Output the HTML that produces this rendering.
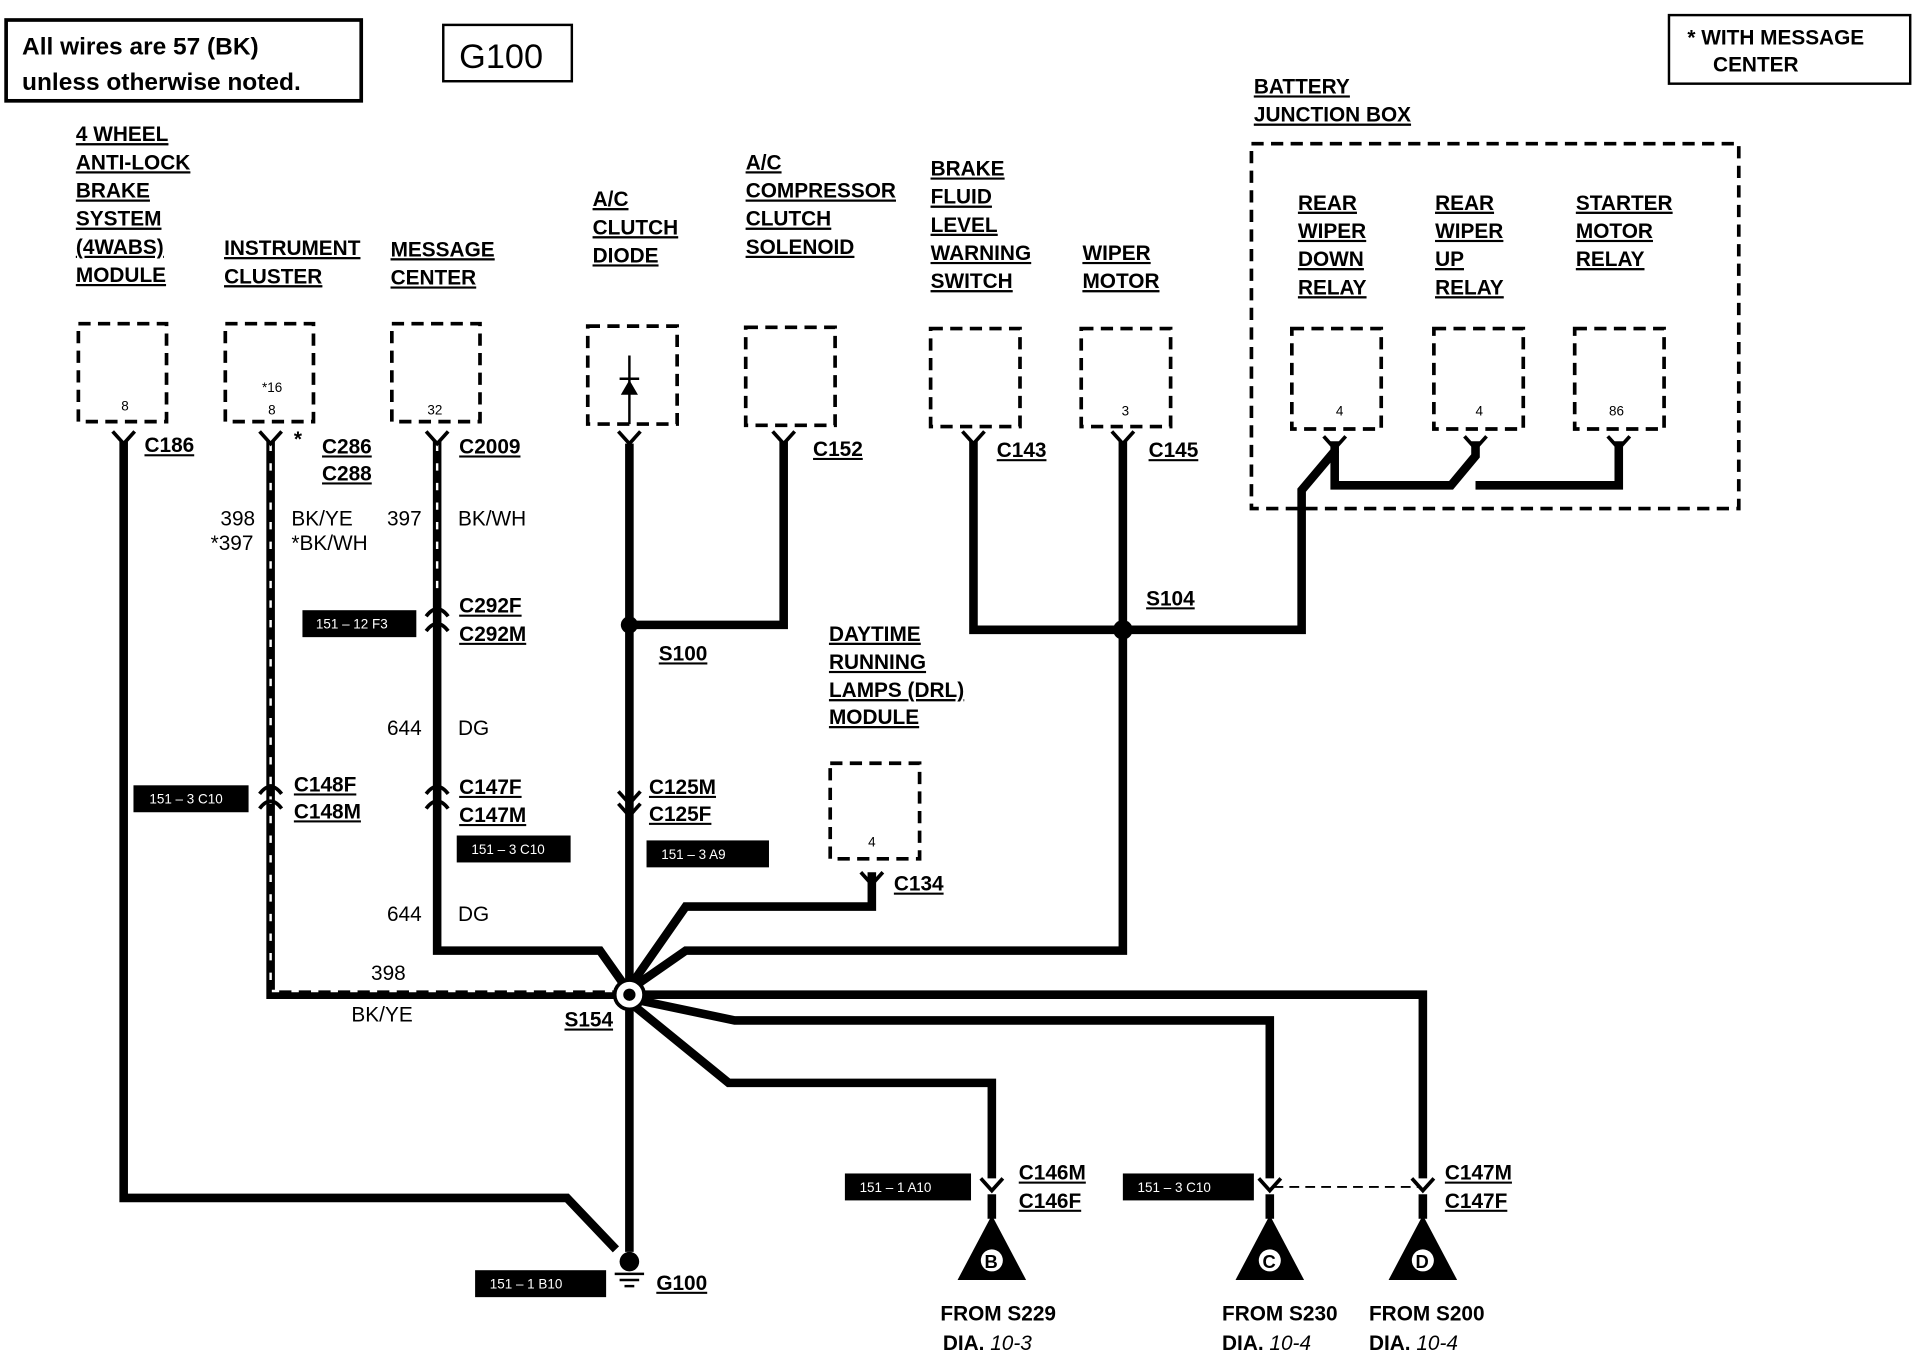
<!DOCTYPE html>
<html><head><meta charset="utf-8"><style>
html,body{margin:0;padding:0;background:#fff;}
svg{display:block;}
text{font-family:"Liberation Sans",sans-serif;font-weight:bold;font-size:17px;fill:#000;}
.u{text-decoration:underline;}
.s{font-size:11px;font-weight:normal;}
.bx{font-size:11px;fill:#fff;font-weight:normal;}
.w{fill:none;stroke:#000;stroke-width:7;stroke-linejoin:miter;}
.d{fill:none;stroke:#000;stroke-width:3;stroke-dasharray:10,6;}
.h{fill:none;stroke:#fff;stroke-width:2;stroke-dasharray:6,10;}
</style></head><body>
<svg width="1920" height="1360" viewBox="0 0 1568 1110" xmlns="http://www.w3.org/2000/svg">
<!-- header boxes -->
<rect x="5" y="16" width="290" height="66" fill="none" stroke="#000" stroke-width="3"/>
<text x="18" y="44" style="font-size:20px">All wires are 57 (BK)</text>
<text x="18" y="73" style="font-size:20px">unless otherwise noted.</text>
<rect x="362" y="20" width="105" height="46" fill="none" stroke="#000" stroke-width="2"/>
<text x="375" y="55" style="font-size:28px;font-weight:normal">G100</text>
<rect x="1363" y="12" width="197" height="56" fill="none" stroke="#000" stroke-width="2"/>
<text x="1378" y="36">*  WITH MESSAGE</text>
<text x="1399" y="58">CENTER</text>

<!-- component labels -->
<g class="u">
<text x="62" y="115" class="u">4 WHEEL</text><text x="62" y="138" class="u">ANTI-LOCK</text><text x="62" y="161" class="u">BRAKE</text><text x="62" y="184" class="u">SYSTEM</text><text x="62" y="207" class="u">(4WABS)</text><text x="62" y="230" class="u">MODULE</text>
<text x="183" y="208" class="u">INSTRUMENT</text><text x="183" y="231" class="u">CLUSTER</text>
<text x="319" y="209" class="u">MESSAGE</text><text x="319" y="232" class="u">CENTER</text>
<text x="484" y="168" class="u">A/C</text><text x="484" y="191" class="u">CLUTCH</text><text x="484" y="214" class="u">DIODE</text>
<text x="609" y="138" class="u">A/C</text><text x="609" y="161" class="u">COMPRESSOR</text><text x="609" y="184" class="u">CLUTCH</text><text x="609" y="207" class="u">SOLENOID</text>
<text x="760" y="143" class="u">BRAKE</text><text x="760" y="166" class="u">FLUID</text><text x="760" y="189" class="u">LEVEL</text><text x="760" y="212" class="u">WARNING</text><text x="760" y="235" class="u">SWITCH</text>
<text x="884" y="212" class="u">WIPER</text><text x="884" y="235" class="u">MOTOR</text>
<text x="1024" y="76" class="u">BATTERY</text><text x="1024" y="99" class="u">JUNCTION BOX</text>
<text x="1060" y="171" class="u">REAR</text><text x="1060" y="194" class="u">WIPER</text><text x="1060" y="217" class="u">DOWN</text><text x="1060" y="240" class="u">RELAY</text>
<text x="1172" y="171" class="u">REAR</text><text x="1172" y="194" class="u">WIPER</text><text x="1172" y="217" class="u">UP</text><text x="1172" y="240" class="u">RELAY</text>
<text x="1287" y="171" class="u">STARTER</text><text x="1287" y="194" class="u">MOTOR</text><text x="1287" y="217" class="u">RELAY</text>
<text x="677" y="523" class="u">DAYTIME</text><text x="677" y="546" class="u">RUNNING</text><text x="677" y="569" class="u">LAMPS (DRL)</text><text x="677" y="591" class="u">MODULE</text>
</g>

<!-- dashed boxes -->
<rect class="d" x="64" y="264" width="72" height="80"/><text class="s" x="99" y="335">8</text>
<rect class="d" x="184" y="264" width="72" height="80"/><text class="s" x="214" y="320">*16</text><text class="s" x="219" y="338">8</text>
<rect class="d" x="320" y="264" width="72" height="80"/><text class="s" x="349" y="338">32</text>
<rect class="d" x="480" y="266" width="73" height="80"/>
<rect class="d" x="609" y="267" width="73" height="80"/>
<rect class="d" x="760" y="268" width="73" height="80"/>
<rect class="d" x="883" y="268" width="73" height="80"/><text class="s" x="916" y="339">3</text>
<rect class="d" x="1022" y="117" width="398" height="298"/>
<rect class="d" x="1055" y="268" width="73" height="82"/><text class="s" x="1091" y="339">4</text>
<rect class="d" x="1171" y="268" width="73" height="82"/><text class="s" x="1205" y="339">4</text>
<rect class="d" x="1286" y="268" width="73" height="82"/><text class="s" x="1314" y="339">86</text>
<rect class="d" x="678" y="623" width="73" height="78"/><text class="s" x="709" y="691">4</text>
<!-- diode -->
<line x1="514" y1="290" x2="514" y2="346" stroke="#000" stroke-width="2"/>
<polygon points="507,322 521,322 514,310" fill="#000"/>
<line x1="506" y1="309" x2="522" y2="309" stroke="#000" stroke-width="2"/>

<!-- wires -->
<path class="w" d="M101,360 V978 H463 L503,1020"/>
<path class="w" d="M221,360 V812 H514"/>
<path class="h" d="M221,362 V809 H500"/>
<path class="w" d="M357,360 V776 H490 L514,810"/>
<path class="h" d="M357,362 V480"/>
<path class="w" d="M514,362 V1022"/>
<path class="w" d="M514,510 H640 V360"/>
<path class="w" d="M795,360 V514 H917"/>
<path class="w" d="M917,360 V776 H560 L514,808"/>
<path class="w" d="M917,514 H1063 V400 L1090,368 V360"/>
<path class="w" d="M1090,368 V396 H1185 L1205,372 V360"/>
<path class="w" d="M1205,396 H1322 V360"/>
<path class="w" d="M712,712 V740 H560 L514,806"/>
<path class="w" d="M514,812 H1162 V962"/>
<path class="w" d="M514,815 L600,833 H1037 V962"/>
<path class="w" d="M514,818 L595,884 H810 V962"/>
<path class="w" d="M810,975 V995"/><path class="w" d="M1037,975 V995"/><path class="w" d="M1162,975 V995"/>
<line x1="1040" y1="969" x2="1160" y2="969" stroke="#000" stroke-width="1.5" stroke-dasharray="8,5"/>

<!-- connector forks -->
<g fill="none" stroke="#000" stroke-width="3">
<path d="M92,352 L101,362 L110,352"/><path d="M212,352 L221,362 L230,352"/><path d="M348,352 L357,362 L366,352"/>
<path d="M505,352 L514,362 L523,352"/><path d="M631,352 L640,362 L649,352"/><path d="M786,352 L795,362 L804,352"/>
<path d="M908,352 L917,362 L926,352"/><path d="M1081,356 L1090,366 L1099,356"/><path d="M1196,356 L1205,366 L1214,356"/>
<path d="M1313,356 L1322,366 L1331,356"/><path d="M703,712 L712,722 L721,712"/>
<!-- inline connectors -->
<path d="M212,648 Q221,636 230,648"/><path d="M212,660 Q221,648 230,660"/>
<path d="M348,503 Q357,491 366,503"/><path d="M348,515 Q357,503 366,515"/>
<path d="M348,648 Q357,636 366,648"/><path d="M348,660 Q357,648 366,660"/>
<path d="M505,646 L514,656 L523,646"/><path d="M505,656 L514,666 L523,656"/>
<path d="M801,962 L810,972 L819,962"/><path d="M1028,962 L1037,972 L1046,962"/><path d="M1153,962 L1162,972 L1171,962"/>
</g>

<!-- splices -->
<circle cx="514" cy="510" r="7" fill="#000"/>
<circle cx="917" cy="514" r="8" fill="#000"/>
<circle cx="514" cy="812" r="12" fill="#fff" stroke="#000" stroke-width="3"/>
<circle cx="514" cy="812" r="5" fill="#000"/>
<!-- ground -->
<circle cx="514" cy="1030" r="8" fill="#000"/>
<line x1="502" y1="1040" x2="526" y2="1040" stroke="#000" stroke-width="2"/>
<line x1="506" y1="1045" x2="522" y2="1045" stroke="#000" stroke-width="2"/>
<line x1="510" y1="1050" x2="518" y2="1050" stroke="#000" stroke-width="2"/>

<!-- triangles -->
<polygon points="810,992 782,1045 838,1045" fill="#000"/><circle cx="810" cy="1029" r="9" fill="#fff"/><text x="804" y="1035" style="font-size:15px">B</text>
<polygon points="1037,992 1009,1045 1065,1045" fill="#000"/><circle cx="1037" cy="1029" r="9" fill="#fff"/><text x="1031" y="1035" style="font-size:15px">C</text>
<polygon points="1162,992 1134,1045 1190,1045" fill="#000"/><circle cx="1162" cy="1029" r="9" fill="#fff"/><text x="1156" y="1035" style="font-size:15px">D</text>

<!-- connector labels -->
<text x="118" y="369" class="u">C186</text>
<text x="240" y="364">*</text><text x="263" y="370" class="u">C286</text><text x="263" y="392" class="u">C288</text>
<text x="180" y="429" style="font-weight:normal">398</text><text x="172" y="449" style="font-weight:normal">*397</text>
<text x="238" y="429" style="font-weight:normal">BK/YE</text><text x="238" y="449" style="font-weight:normal">*BK/WH</text>
<text x="240" y="646" class="u">C148F</text><text x="240" y="668" class="u">C148M</text>
<text x="303" y="800" style="font-weight:normal">398</text><text x="287" y="834" style="font-weight:normal">BK/YE</text>
<text x="375" y="370" class="u">C2009</text>
<text x="316" y="429" style="font-weight:normal">397</text><text x="374" y="429" style="font-weight:normal">BK/WH</text>
<text x="375" y="500" class="u">C292F</text><text x="375" y="523" class="u">C292M</text>
<text x="316" y="600" style="font-weight:normal">644</text><text x="374" y="600" style="font-weight:normal">DG</text>
<text x="375" y="648" class="u">C147F</text><text x="375" y="671" class="u">C147M</text>
<text x="316" y="752" style="font-weight:normal">644</text><text x="374" y="752" style="font-weight:normal">DG</text>
<text x="538" y="539" class="u">S100</text>
<text x="664" y="372" class="u">C152</text>
<text x="530" y="648" class="u">C125M</text><text x="530" y="670" class="u">C125F</text>
<text x="814" y="373" class="u">C143</text><text x="938" y="373" class="u">C145</text>
<text x="936" y="494" class="u">S104</text>
<text x="730" y="727" class="u">C134</text>
<text x="461" y="838" class="u">S154</text>
<text x="536" y="1053" class="u">G100</text>
<text x="832" y="963" class="u">C146M</text><text x="832" y="986" class="u">C146F</text>
<text x="1180" y="963" class="u">C147M</text><text x="1180" y="986" class="u">C147F</text>
<text x="768" y="1078">FROM S229</text><text x="770" y="1102">DIA. <tspan style="font-style:italic;font-weight:normal">10-3</tspan></text>
<text x="998" y="1078">FROM S230</text><text x="998" y="1102">DIA. <tspan style="font-style:italic;font-weight:normal">10-4</tspan></text>
<text x="1118" y="1078">FROM S200</text><text x="1118" y="1102">DIA. <tspan style="font-style:italic;font-weight:normal">10-4</tspan></text>

<!-- black reference boxes -->
<rect x="109" y="641" width="94" height="22" fill="#000"/><text class="bx" x="122" y="656">151 – 3 C10</text>
<rect x="247" y="498" width="93" height="22" fill="#000"/><text class="bx" x="258" y="513">151 – 12 F3</text>
<rect x="373" y="682" width="93" height="22" fill="#000"/><text class="bx" x="385" y="697">151 – 3 C10</text>
<rect x="528" y="686" width="100" height="22" fill="#000"/><text class="bx" x="540" y="701">151 – 3 A9</text>
<rect x="388" y="1037" width="107" height="22" fill="#000"/><text class="bx" x="400" y="1052">151 – 1 B10</text>
<rect x="690" y="958" width="103" height="22" fill="#000"/><text class="bx" x="702" y="973">151 – 1 A10</text>
<rect x="917" y="958" width="107" height="22" fill="#000"/><text class="bx" x="929" y="973">151 – 3 C10</text>
</svg>
</body></html>
